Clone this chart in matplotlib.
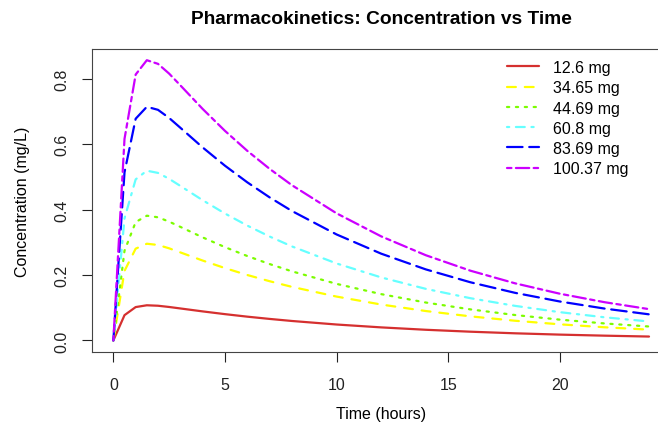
import matplotlib
matplotlib.use("Agg")
import matplotlib.pyplot as plt

# time points (hours)
times = [0, 0.5, 1, 1.5, 2, 2.5, 3, 4, 5, 6, 7, 8, 10, 12, 14, 16, 18, 20, 22, 24]

doses = ["12.6 mg", "34.65 mg", "44.69 mg", "60.8 mg", "83.69 mg", "100.37 mg"]

# concentration (mg/L)
conc_12_6 = [0, 0.0774, 0.1021, 0.1076, 0.1062, 0.1024, 0.0979, 0.0889, 0.0805, 0.0728,
             0.0659, 0.0596, 0.0488, 0.0400, 0.0327, 0.0268, 0.0219, 0.0179, 0.0147, 0.0120]
conc_34_65 = [0, 0.2128, 0.2807, 0.2958, 0.2920, 0.2817, 0.2693, 0.2444, 0.2213, 0.2002,
              0.1812, 0.1639, 0.1342, 0.1099, 0.0900, 0.0737, 0.0603, 0.0494, 0.0404, 0.0331]
conc_44_69 = [0, 0.2744, 0.3620, 0.3815, 0.3766, 0.3633, 0.3474, 0.3152, 0.2854, 0.2582,
              0.2337, 0.2114, 0.1731, 0.1417, 0.1160, 0.0950, 0.0778, 0.0637, 0.0521, 0.0427]
conc_60_8 = [0, 0.3734, 0.4926, 0.5191, 0.5123, 0.4942, 0.4726, 0.4289, 0.3882, 0.3513,
             0.3179, 0.2876, 0.2355, 0.1928, 0.1578, 0.1292, 0.1058, 0.0866, 0.0709, 0.0581]
conc_83_69 = [0, 0.5140, 0.6780, 0.7145, 0.7052, 0.6803, 0.6505, 0.5903, 0.5344, 0.4836,
              0.4376, 0.3959, 0.3242, 0.2654, 0.2173, 0.1779, 0.1456, 0.1192, 0.0976, 0.0799]
conc_100_37 = [0, 0.6164, 0.8131, 0.8569, 0.8458, 0.8159, 0.7802, 0.7080, 0.6409, 0.5799,
               0.5248, 0.4748, 0.3888, 0.3183, 0.2606, 0.2133, 0.1747, 0.1430, 0.1171, 0.0958]

series = [conc_12_6, conc_34_65, conc_44_69, conc_60_8, conc_83_69, conc_100_37]
colors = ["#D5302F", "#FFFF00", "#7CFC00", "#66FFFF", "#0000FF", "#CC00FF"]
# R style lty 1..6
dashes = [None, (4, 4), (1, 3), (1, 3, 4, 3), (7, 3), (2, 2, 6, 2)]

plt.rcParams["font.family"] = ["Liberation Sans", "DejaVu Sans"]

fig = plt.figure(figsize=(6.58, 4.31), dpi=100)
ax = fig.add_axes([0.1397, 0.1817, 0.8792, 0.7023])

for y, c, d, lab in zip(series, colors, dashes, doses):
    line, = ax.plot(times, y, color=c, lw=1.6, label=lab,
                    solid_capstyle="round", dash_capstyle="round")
    if d is not None:
        line.set_dashes(d)

ax.set_xlim(-0.96, 24.96)
ax.set_ylim(-0.0343, 0.8912)
ax.set_xticks([0, 5, 10, 15, 20])
ax.set_yticks([0.0, 0.2, 0.4, 0.6, 0.8])
ax.set_yticklabels(["0.0", "0.2", "0.4", "0.6", "0.8"], rotation=90, va="center")
ax.tick_params(axis="both", direction="out", length=7.5, width=0.8, labelsize=11.5,
               colors="#222222")
ax.tick_params(axis="x", pad=11)
ax.tick_params(axis="y", pad=9)
for s in ax.spines.values():
    s.set_color("#444444")
    s.set_linewidth(0.8)

ax.set_xlabel("Time (hours)", fontsize=11.5, labelpad=10)
ax.set_ylabel("Concentration (mg/L)", fontsize=11.5, labelpad=17)
ax.set_title("Pharmacokinetics: Concentration vs Time", fontsize=13.8,
             fontweight="bold", pad=19)

ax.legend(loc="upper left", bbox_to_anchor=(0.7705, 0.8585),
          bbox_transform=fig.transFigure, frameon=False, fontsize=11.5,
          handlelength=2.0, handletextpad=0.9, labelspacing=0.33,
          borderpad=0, borderaxespad=0)

fig.savefig("out.png", dpi=100)
